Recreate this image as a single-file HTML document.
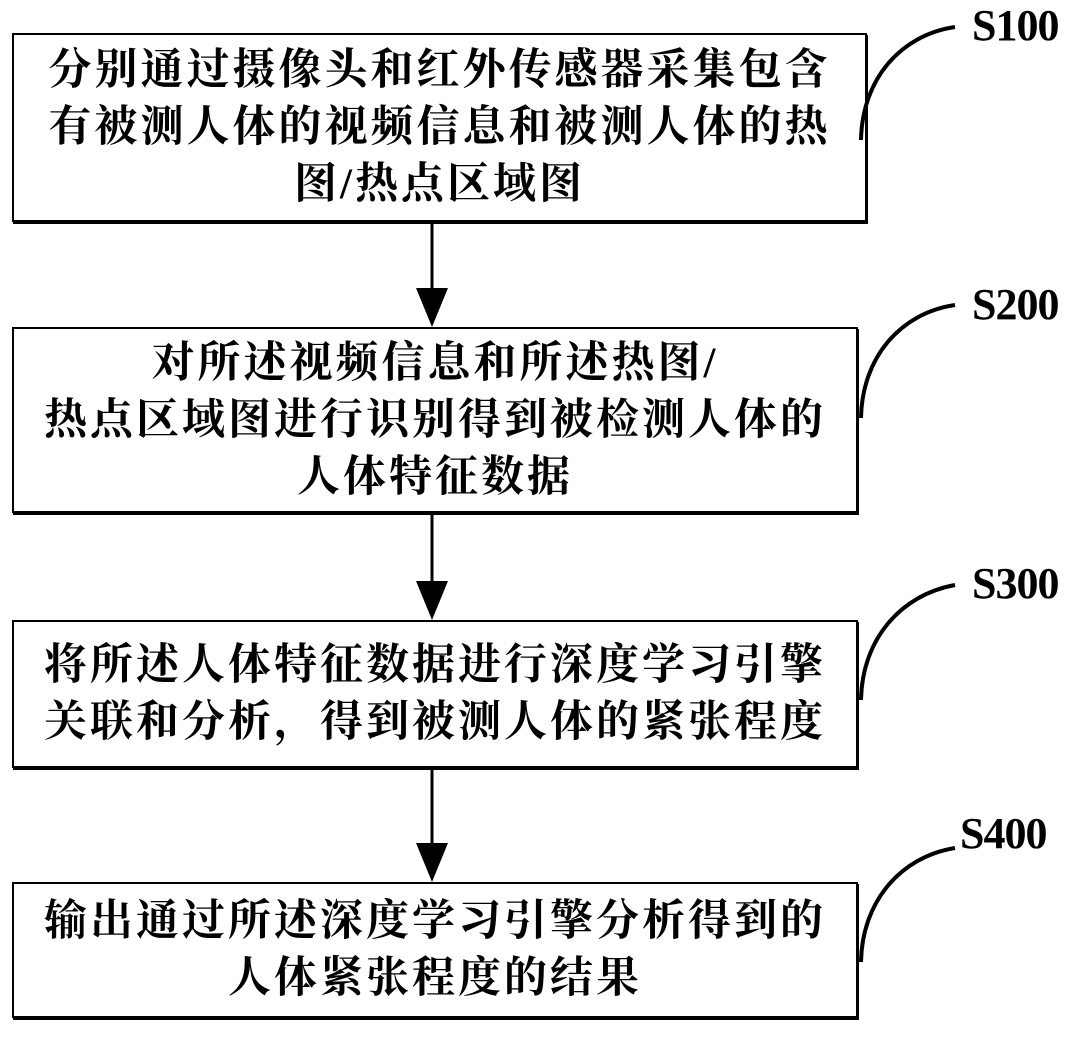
<!DOCTYPE html>
<html><head><meta charset="utf-8"><style>
body{margin:0;width:1075px;height:1043px;background:#fff;position:relative;overflow:hidden}
.b{position:absolute;border:2px solid #000;box-sizing:border-box;box-shadow:1px 2px 0 #000;display:flex;align-items:center;justify-content:center;text-align:center;
font-family:"Liberation Serif","Noto Serif CJK SC",serif;font-weight:bold;font-size:43px;line-height:57px;letter-spacing:3px;color:#000}
.l{position:absolute;font-family:"Liberation Serif",serif;font-weight:bold;font-size:44px;color:#000;letter-spacing:-1px}
</style></head><body>
<div class="b" style="left:12px;top:33px;width:855px;height:189px">分别通过摄像头和红外传感器采集包含<br>有被测人体的视频信息和被测人体的热<br>图/热点区域图</div>
<div class="b" style="left:12px;top:327px;width:846px;height:186px">对所述视频信息和所述热图/<br>热点区域图进行识别得到被检测人体的<br>人体特征数据</div>
<div class="b" style="left:12px;top:620px;width:846px;height:148px">将所述人体特征数据进行深度学习引擎<br>关联和分析，得到被测人体的紧张程度</div>
<div class="b" style="left:12px;top:882px;width:846px;height:136px">输出通过所述深度学习引擎分析得到的<br>人体紧张程度的结果</div>
<div class="l" style="left:972px;top:0px">S100</div>
<div class="l" style="left:972px;top:279px">S200</div>
<div class="l" style="left:972px;top:558px">S300</div>
<div class="l" style="left:960px;top:808px">S400</div>
<svg width="1075" height="1043" style="position:absolute;left:0;top:0" fill="none" stroke="#000">
<g stroke-width="4">
<path d="M861 140 C862 80 900 35 955 27"/>
<path d="M861 418 C862 358 900 313 955 305"/>
<path d="M861 700 C862 640 900 595 955 585"/>
<path d="M861 962 C862 902 900 857 955 848"/>
</g>
<g stroke-width="3">
<line x1="432" y1="222" x2="432" y2="300"/>
<line x1="432" y1="514" x2="432" y2="593"/>
<line x1="432" y1="768" x2="432" y2="855"/>
</g>
<g fill="#000" stroke="none">
<polygon points="416,288 448,288 432,327"/>
<polygon points="416,581 448,581 432,620"/>
<polygon points="416,843 448,843 432,882"/>
</g>
</svg>
</body></html>
